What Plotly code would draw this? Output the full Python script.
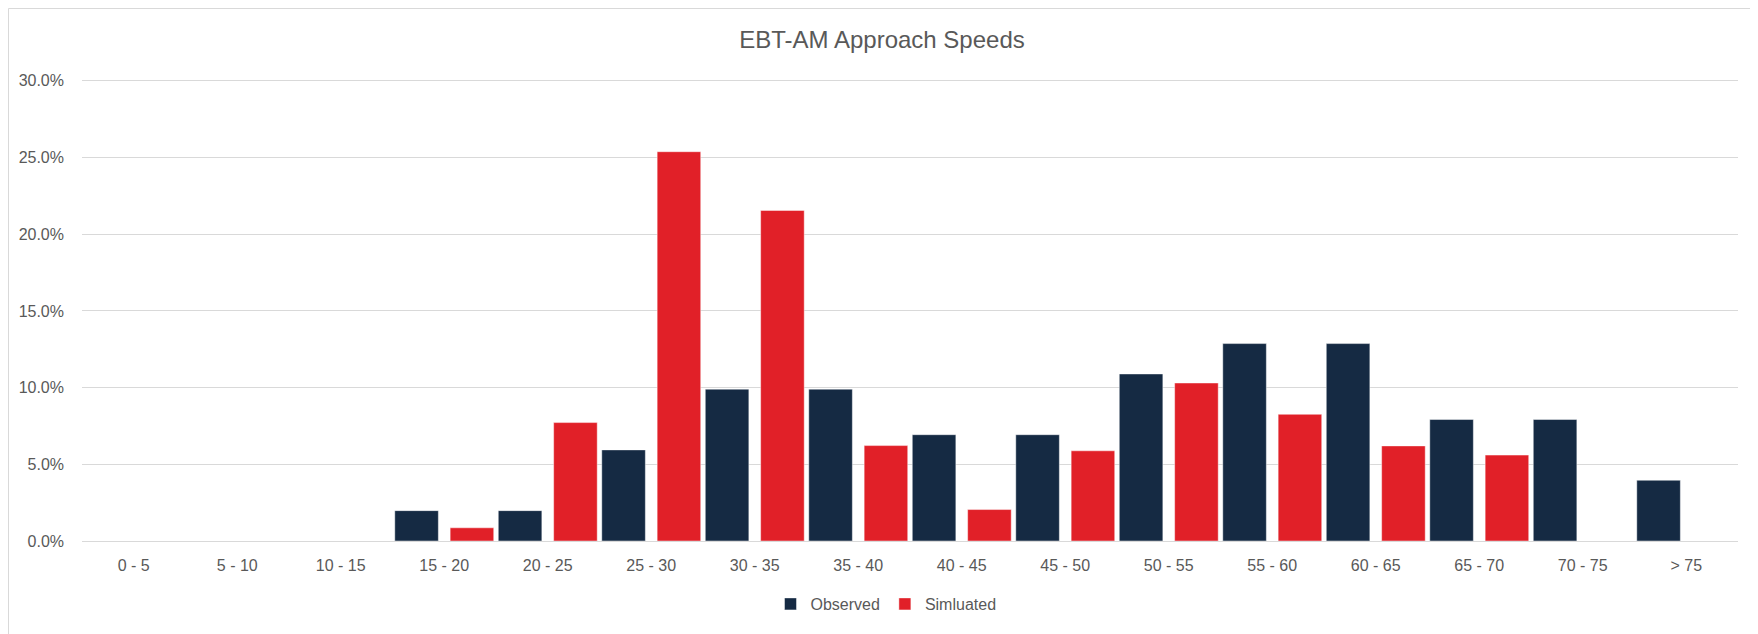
import plotly.graph_objects as go

categories = ["0 - 5", "5 - 10", "10 - 15", "15 - 20", "20 - 25", "25 - 30", "30 - 35",
              "35 - 40", "40 - 45", "45 - 50", "50 - 55", "55 - 60", "60 - 65",
              "65 - 70", "70 - 75", "> 75"]
observed = [0.0, 0.0, 0.0, 0.0198, 0.0198, 0.0594, 0.0990, 0.0990, 0.0693, 0.0693,
            0.1089, 0.1287, 0.1287, 0.0792, 0.0792, 0.0396]
simulated = [0.0, 0.0, 0.0, 0.0086, 0.0772, 0.2538, 0.2155, 0.0622, 0.0205, 0.0588,
             0.1030, 0.0826, 0.0620, 0.0560, 0.0, 0.0]

NAVY = "#152A43"
RED = "#E12028"
TXT = "#595959"
GRID = "#D9D9D9"
FONT = "Liberation Sans, Arial, sans-serif"

# page body has an 8px margin: figure is placed at (8, 8) in the window
FW, FH = 1750, 626
L, R, T, B = 74, 20, 71, 93
PW, PH = FW - L - R, FH - T - B

fig = go.Figure()
fig.add_trace(go.Bar(
    x=categories, y=observed, name="Observed",
    marker=dict(color=NAVY, line=dict(color="rgba(255,255,255,0.45)", width=1)),
    width=0.421, offset=-0.478,
))
fig.add_trace(go.Bar(
    x=categories, y=simulated, name="Simluated",
    marker=dict(color=RED, line=dict(color="rgba(255,255,255,0.45)", width=1)),
    width=0.421, offset=0.057,
))

fig.update_layout(
    width=FW, height=FH,
    margin=dict(l=L, r=R, t=T, b=B, pad=0),
    paper_bgcolor="white", plot_bgcolor="white",
    barmode="overlay",
    font=dict(family=FONT, color=TXT, size=16),
    title=dict(text="EBT-AM Approach Speeds", x=874 / FW, xanchor="center",
               xref="container", y=1 - 32 / FH, yref="container", yanchor="middle",
               font=dict(family=FONT, size=24, color=TXT)),
    showlegend=True,
    legend=dict(orientation="h", x=(878 - L) / PW, xanchor="center",
                y=-(596 - (T + PH)) / PH, yanchor="middle",
                font=dict(family=FONT, size=16, color=TXT), traceorder="normal",
                itemclick=False),
    xaxis=dict(type="category", range=[-0.5, 15.5], showgrid=False, zeroline=False,
               showline=True, linecolor=GRID, linewidth=1, ticks="",
               tickfont=dict(family=FONT, size=16, color=TXT), ticklabelstandoff=10),
    yaxis=dict(range=[0, 0.3012], dtick=0.05, tickformat=".1%", showgrid=True,
               gridcolor=GRID, gridwidth=1, zeroline=False, showline=False, ticks="",
               tickfont=dict(family=FONT, size=16, color=TXT), ticklabelstandoff=17),
    shapes=[dict(type="rect", xref="paper", yref="paper",
                 x0=-(L - 0.5) / PW, x1=1.2, y0=-0.5, y1=(PH + T - 0.5) / PH,
                 line=dict(color=GRID, width=1), fillcolor="rgba(0,0,0,0)", layer="below")],
)

fig.write_html("out.html")
